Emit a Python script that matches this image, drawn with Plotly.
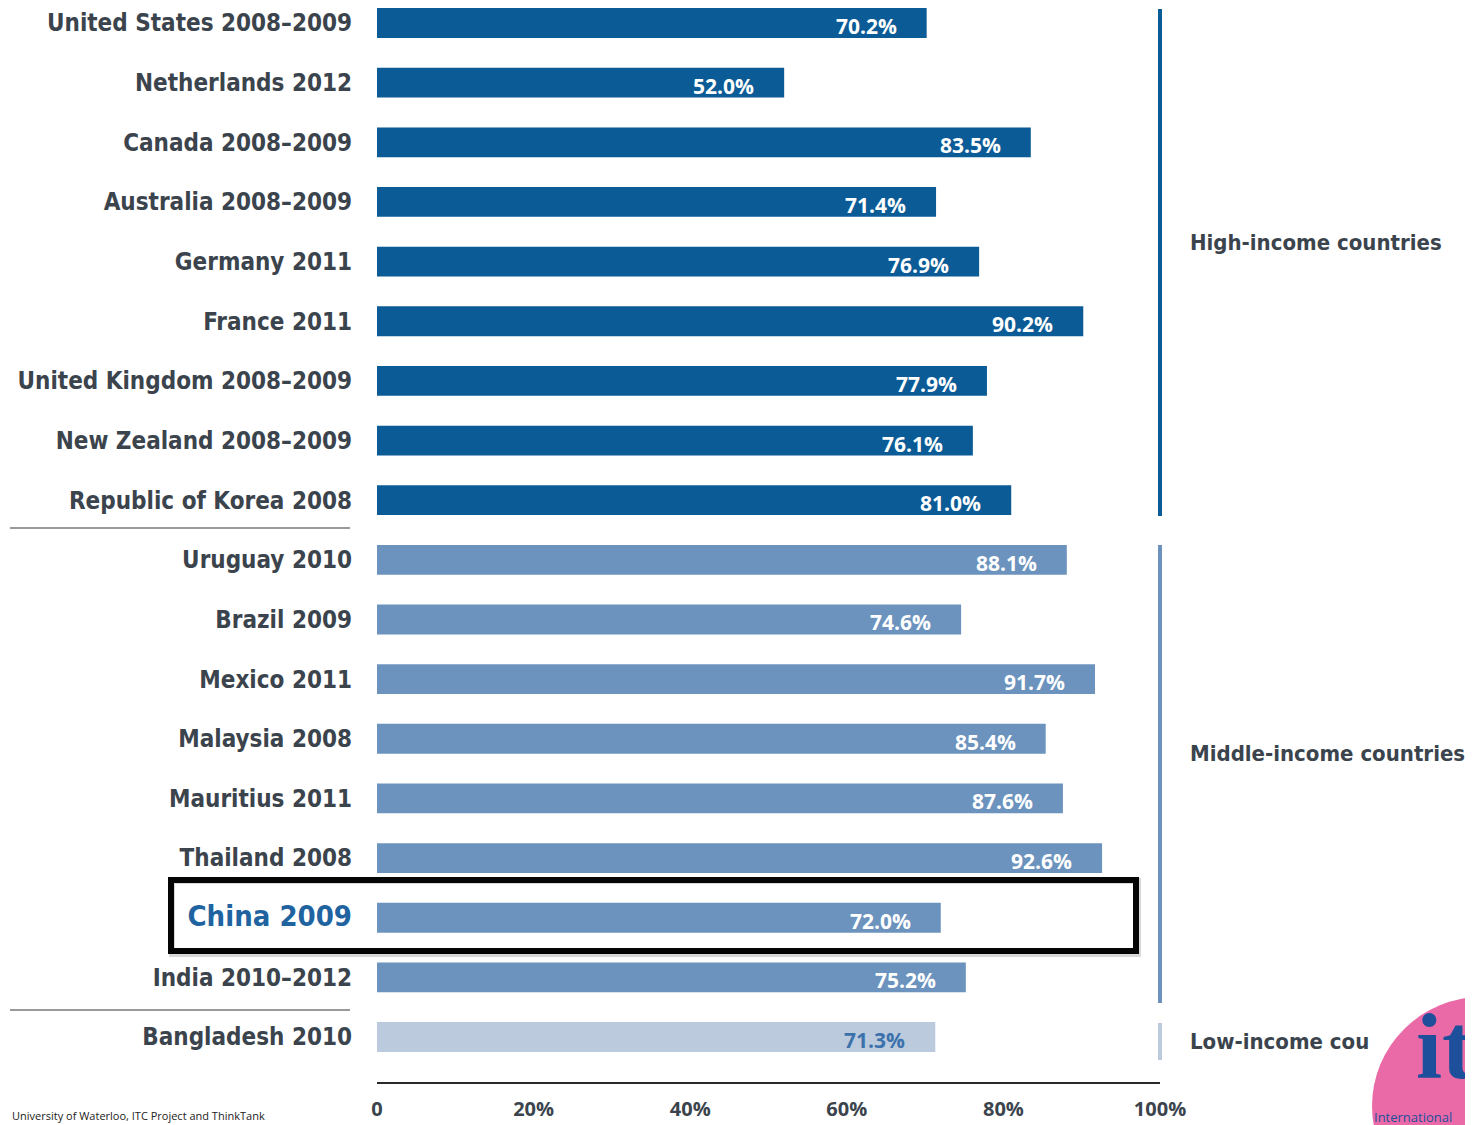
import plotly.graph_objects as go

countries = ["United States 2008–2009", "Netherlands 2012", "Canada 2008–2009",
             "Australia 2008–2009", "Germany 2011", "France 2011",
             "United Kingdom 2008–2009", "New Zealand 2008–2009", "Republic of Korea 2008",
             "Uruguay 2010", "Brazil 2009", "Mexico 2011", "Malaysia 2008",
             "Mauritius 2011", "Thailand 2008", "China 2009", "India 2010–2012",
             "Bangladesh 2010"]
values = [70.2, 52.0, 83.5, 71.4, 76.9, 90.2, 77.9, 76.1, 81.0,
          88.1, 74.6, 91.7, 85.4, 87.6, 92.6, 72.0, 75.2, 71.3]
groups = ["High"] * 9 + ["Middle"] * 8 + ["Low"]
x_ticks = [0, 20, 40, 60, 80, 100]
x_tick_labels = ["0", "20%", "40%", "60%", "80%", "100%"]
group_labels = ["High-income countries", "Middle-income countries", "Low-income cou"]
highlight = "China 2009"

group_colors = {"High": "#0b5b96", "Middle": "#6b93be", "Low": "#bccade"}
value_colors = {"High": "white", "Middle": "white", "Low": "#3b72ab"}
LABEL = "#3b444d"
COND = "Liberation Sans Narrow, DejaVu Sans Condensed, Roboto Condensed, sans-serif"
ROUND = "Open Sans, Lato, sans-serif"

idx = list(range(len(countries)))
ticktext = []
for c in countries:
    if c == highlight:
        ticktext.append("<span style='font-size:29px;color:#1f64a0'>" + c + "</span>")
    else:
        ticktext.append(c)

fig = go.Figure()
fig.add_trace(go.Bar(
    x=values, y=idx, orientation="h",
    marker=dict(color=[group_colors[g] for g in groups], line=dict(width=0)),
    width=0.5, hoverinfo="skip", showlegend=False,
))

annotations = []
for i, (v, g) in enumerate(zip(values, groups)):
    annotations.append(dict(
        x=v, y=i, xref="x", yref="y", text=f"{v:.1f}%", showarrow=False,
        xanchor="right", yanchor="middle", xshift=-28, yshift=-3,
        font=dict(family=ROUND, size=21, color=value_colors[g], weight="bold"),
    ))

# page is offset by 8px (body margin); plot area on page: x 377..1160, y 8..1082
def px(xp):
    return (xp - 377) / 783.0

def py(yp):
    return (1082 - yp) / 1074.0

for text, ypix in zip(group_labels, [242, 753, 1041]):
    annotations.append(dict(
        x=px(1188), y=py(ypix), xref="paper", yref="paper", text=text,
        showarrow=False, xanchor="left", yanchor="middle",
        font=dict(family=COND, size=22, color=LABEL, weight="bold"),
    ))

annotations.append(dict(
    x=px(10), y=py(1106), xref="paper", yref="paper",
    text="University of Waterloo, ITC Project and ThinkTank", showarrow=False,
    xanchor="left", yanchor="top", font=dict(family=ROUND, size=11, color="#222")))

# logo text
annotations.append(dict(
    x=px(1414), y=py(1100), xref="paper", yref="paper", text="it", showarrow=False,
    xanchor="left", yanchor="bottom",
    font=dict(family="Liberation Serif, DejaVu Serif, serif", size=94, color="#1d4f9b",
              weight="bold")))
annotations.append(dict(
    x=px(1372), y=py(1106), xref="paper", yref="paper", text="International",
    showarrow=False, xanchor="left", yanchor="top",
    font=dict(family=ROUND, size=13, color="#1d4f9b")))

shapes = [
    # separators
    dict(type="line", xref="paper", yref="paper", x0=px(10), x1=px(350), y0=py(528), y1=py(528),
         line=dict(color="#9a9a9a", width=2)),
    dict(type="line", xref="paper", yref="paper", x0=px(10), x1=px(350), y0=py(1010), y1=py(1010),
         line=dict(color="#9a9a9a", width=2)),
    # group brackets
    dict(type="line", xref="paper", yref="paper", x0=1, x1=1, y0=py(9), y1=py(516),
         line=dict(color=group_colors["High"], width=4)),
    dict(type="line", xref="paper", yref="paper", x0=1, x1=1, y0=py(545), y1=py(1003),
         line=dict(color=group_colors["Middle"], width=4)),
    dict(type="line", xref="paper", yref="paper", x0=1, x1=1, y0=py(1023), y1=py(1060),
         line=dict(color=group_colors["Low"], width=4)),
    # highlight box shadow + box
    dict(type="rect", xref="paper", yref="paper", x0=px(172), x1=px(1138), y0=py(954), y1=py(881),
         line=dict(color="rgba(0,0,0,0.15)", width=6), fillcolor="rgba(0,0,0,0)"),
    dict(type="rect", xref="paper", yref="paper", x0=px(171), x1=px(1136), y0=py(951), y1=py(880),
         line=dict(color="#050505", width=6), fillcolor="rgba(0,0,0,0)"),
    # logo circle
    dict(type="circle", xref="paper", yref="paper", x0=px(1372), x1=px(1592), y0=py(1215), y1=py(997),
         line=dict(width=0), fillcolor="#e96aa7", layer="below"),
]

fig.update_layout(
    template="none",
    width=1473, height=1125,
    margin=dict(l=369, r=321, t=0, b=51, autoexpand=False),
    paper_bgcolor="white", plot_bgcolor="white",
    bargap=0.5,
    xaxis=dict(range=[0, 100], tickvals=x_ticks, ticktext=x_tick_labels,
               showgrid=False, zeroline=False, showline=True, linecolor="#2a2a2a",
               linewidth=2, ticks="", ticklabelstandoff=8, automargin=False,
               tickfont=dict(family=ROUND, size=20, color=LABEL, weight="bold"),
               fixedrange=True),
    yaxis=dict(range=[17.754, -0.2515], tickvals=idx, ticktext=ticktext,
               showgrid=False, zeroline=False, showline=False, ticks="",
               ticklabelstandoff=24, automargin=False,
               tickfont=dict(family=COND, size=24, color=LABEL, weight="bold"),
               fixedrange=True),
    annotations=annotations,
    shapes=shapes,
)

fig.write_html("out.html")
